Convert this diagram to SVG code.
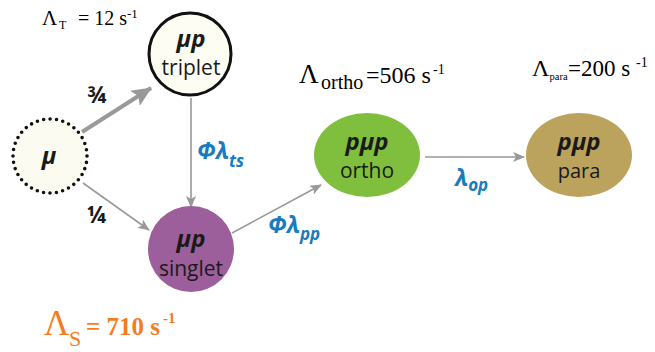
<svg xmlns="http://www.w3.org/2000/svg" width="655" height="352" viewBox="0 0 655 352">
<style>
.nl{font-family:"Open Sans","Noto Sans",sans-serif;font-weight:bold;font-style:italic;fill:#1a1a1a;text-anchor:middle}
.ns{font-family:"Open Sans","Noto Sans",sans-serif;fill:#1a1a1a;text-anchor:middle}
.tm{font-family:"Liberation Serif","Times New Roman",serif;fill:#000}
.bl{font-family:"Open Sans","Noto Sans",sans-serif;font-weight:bold;font-style:italic;fill:#1a7bbf}
.fr{font-family:"Open Sans","Noto Sans",sans-serif;font-weight:bold;fill:#1a1a1a}
.ar{stroke:#999;fill:none}
</style>
<defs>
<marker id="ah" markerUnits="userSpaceOnUse" markerWidth="12" markerHeight="10" refX="11" refY="5" orient="auto">
<path d="M0,0 L12,5 L0,10 L3,5 Z" fill="#999"/>
</marker>
<marker id="ahb" markerUnits="userSpaceOnUse" markerWidth="20" markerHeight="18" refX="19" refY="9" orient="auto">
<path d="M0,0 L20,9 L0,18 L4,9 Z" fill="#999"/>
</marker>
</defs>
<g id="connectors">
<line class="ar" x1="82" y1="132" x2="151" y2="88" stroke-width="4" marker-end="url(#ahb)"/>
<line class="ar" x1="83" y1="183" x2="149" y2="230" stroke-width="1.6" marker-end="url(#ah)"/>
<line class="ar" x1="191" y1="98" x2="191" y2="207" stroke-width="1.6" marker-end="url(#ah)"/>
<line class="ar" x1="232" y1="233" x2="321" y2="185" stroke-width="1.6" marker-end="url(#ah)"/>
<line class="ar" x1="425" y1="157" x2="524" y2="157" stroke-width="1.6" marker-end="url(#ah)"/>
</g>
<g id="mu">
<circle cx="50" cy="156" r="37" fill="#fbfbf1" stroke="#111" stroke-width="3.6" stroke-dasharray="0 6.45" stroke-linecap="round"/>
<text class="nl" x="49" y="164" font-size="24">μ</text>
</g>
<g id="triplet">
<circle cx="190" cy="54" r="41" fill="#fdfdf4" stroke="#111" stroke-width="3"/>
<text class="nl" x="191" y="47" font-size="24">μp</text>
<text class="ns" x="191" y="75" font-size="21">triplet</text>
</g>
<g id="singlet">
<circle cx="191" cy="249" r="43" fill="#9c5f9b"/>
<text class="nl" x="191" y="247" font-size="24">μp</text>
<text class="ns" x="191" y="276" font-size="21">singlet</text>
</g>
<g id="ortho">
<ellipse cx="367" cy="155" rx="53" ry="42" fill="#7fbf3d"/>
<text class="nl" x="367" y="150" font-size="24">pμp</text>
<text class="ns" x="367" y="178" font-size="21">ortho</text>
</g>
<g id="para">
<ellipse cx="579" cy="155" rx="53" ry="42" fill="#bba35e"/>
<text class="nl" x="579" y="150" font-size="24">pμp</text>
<text class="ns" x="579" y="178" font-size="20">para</text>
</g>
<g id="labels">
<text class="fr" x="87" y="103" font-size="23">¾</text>
<text class="fr" x="87" y="223" font-size="23">¼</text>
<text class="bl" x="197" y="159" font-size="23">Φλ<tspan font-size="17" dy="8">ts</tspan></text>
<text class="bl" x="268" y="233" font-size="23">Φλ<tspan font-size="17" dy="7">pp</tspan></text>
<text class="bl" x="455" y="186" font-size="23">λ<tspan font-size="17" dy="5">op</tspan></text>
<text class="tm" font-size="20"><tspan x="42" y="25" font-size="21">Λ</tspan><tspan x="59" y="29" font-size="12">T</tspan><tspan x="78" y="25">= 12 s</tspan><tspan x="127" y="18" font-size="13">-1</tspan></text>
<text class="tm" font-size="24"><tspan x="299" y="83" font-size="27">Λ</tspan><tspan x="321" y="89" font-size="20">ortho</tspan><tspan x="366" y="83">=506 s</tspan><tspan x="433" y="74" font-size="14">-1</tspan></text>
<text class="tm" font-size="23"><tspan x="532" y="76" font-size="24">Λ</tspan><tspan x="549.5" y="80" font-size="10.5">para</tspan><tspan x="568" y="76">=200 s</tspan><tspan x="636" y="67" font-size="14">-1</tspan></text>
<text class="tm" style="fill:#f57c1f"><tspan x="44" y="335" font-size="35">Λ</tspan><tspan x="69" y="346" font-size="22">S</tspan><tspan x="86" y="335" font-size="25" font-weight="bold">= 710 s</tspan><tspan x="163" y="323" font-size="15" font-weight="bold">-1</tspan></text>
</g>
</svg>
